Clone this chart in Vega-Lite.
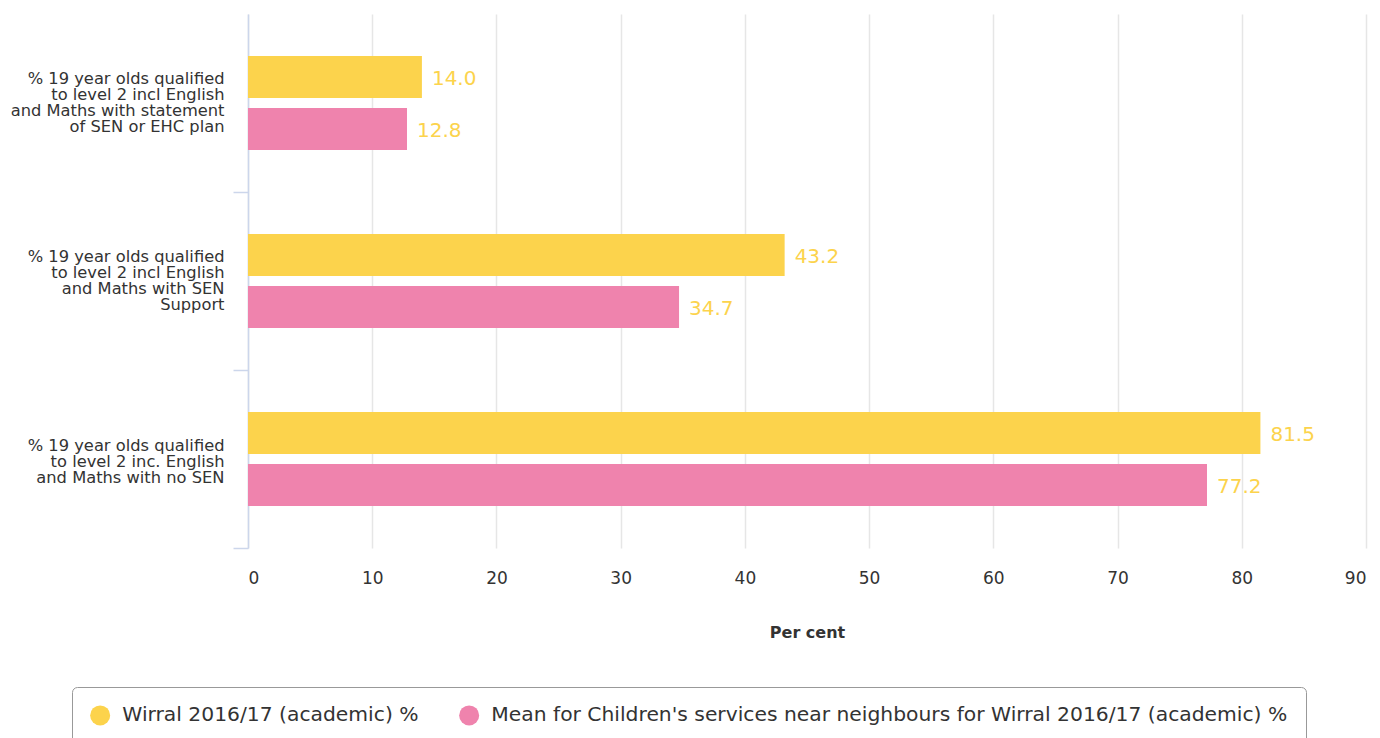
{
  "$schema": "https://vega.github.io/schema/vega-lite/v6.json",
  "width": 1118,
  "height": 534,
  "autosize": "none",
  "padding": {"left": 248, "top": 14, "right": 14, "bottom": 190},
  "config": {"font": "DejaVu Sans", "view": {"stroke": null}},
  "data": {
    "values": [
      {"category": "% 19 year olds qualified to level 2 incl English and Maths with statement of SEN or EHC plan", "series": "Wirral 2016/17 (academic) %", "value": 14.0},
      {"category": "% 19 year olds qualified to level 2 incl English and Maths with statement of SEN or EHC plan", "series": "Mean for Children's services near neighbours for Wirral 2016/17 (academic) %", "value": 12.8},
      {"category": "% 19 year olds qualified to level 2 incl English and Maths with SEN Support", "series": "Wirral 2016/17 (academic) %", "value": 43.2},
      {"category": "% 19 year olds qualified to level 2 incl English and Maths with SEN Support", "series": "Mean for Children's services near neighbours for Wirral 2016/17 (academic) %", "value": 34.7},
      {"category": "% 19 year olds qualified to level 2 inc. English and Maths with no SEN", "series": "Wirral 2016/17 (academic) %", "value": 81.5},
      {"category": "% 19 year olds qualified to level 2 inc. English and Maths with no SEN", "series": "Mean for Children's services near neighbours for Wirral 2016/17 (academic) %", "value": 77.2}
    ]
  },
  "encoding": {
    "y": {
      "field": "category",
      "type": "nominal",
      "sort": null,
      "scale": {"paddingInner": 0, "paddingOuter": 0},
      "axis": {
        "title": null,
        "bandPosition": 1,
        "domainColor": "#ccd6eb",
        "domainWidth": 1.5,
        "tickColor": "#ccd6eb",
        "tickWidth": 1.5,
        "tickSize": 15,
        "labelPadding": 9,
        "labelFontSize": 16.3,
        "labelLineHeight": 16,
        "labelColor": "#333333",
        "labelLimit": 400,
        "labelOffset": {"condition": {"test": "indexof(datum.value, 'no SEN') > 0", "value": -13}, "value": -24},
        "labelExpr": "indexof(datum.value, 'statement') > 0 ? ['% 19 year olds qualified', 'to level 2 incl English', 'and Maths with statement', 'of SEN or EHC plan'] : indexof(datum.value, 'SEN Support') > 0 ? ['% 19 year olds qualified', 'to level 2 incl English', 'and Maths with SEN', 'Support'] : ['% 19 year olds qualified', 'to level 2 inc. English', 'and Maths with no SEN']"
      }
    },
    "yOffset": {
      "field": "series",
      "type": "nominal",
      "sort": null,
      "scale": {"paddingInner": 0.1923, "paddingOuter": 0.8077}
    },
    "x": {
      "field": "value",
      "type": "quantitative",
      "scale": {"domain": [0, 90], "nice": false},
      "axis": {
        "values": [0, 10, 20, 30, 40, 50, 60, 70, 80, 90],
        "domain": false,
        "ticks": false,
        "grid": true,
        "gridColor": "#e6e6e6",
        "gridWidth": 1.5,
        "labelFontSize": 17,
        "labelColor": "#333333",
        "labelPadding": 22,
        "title": "Per cent",
        "titleFontSize": 16,
        "titleFontWeight": "bold",
        "titleColor": "#333333",
        "titlePadding": 38
      }
    }
  },
  "layer": [
    {
      "mark": {"type": "bar"},
      "encoding": {
        "color": {
          "field": "series",
          "type": "nominal",
          "sort": null,
          "scale": {"range": ["#fcd34c", "#ef83ad"]},
          "legend": {
            "title": null,
            "orient": "none",
            "legendX": -176,
            "legendY": 673,
            "direction": "horizontal",
            "symbolType": "circle",
            "symbolSize": 400,
            "symbolStrokeWidth": 0,
            "labelFontSize": 20.3,
            "labelColor": "#333333",
            "labelLimit": 1000,
            "labelOffset": 12,
            "columnPadding": 40,
            "padding": 18,
            "strokeColor": "#999999",
            "fillColor": "#ffffff",
            "cornerRadius": 5
          }
        }
      }
    },
    {
      "mark": {"type": "text", "align": "left", "baseline": "middle", "dx": 10, "dy": 2, "fontSize": 20, "color": "#fcd34c"},
      "encoding": {
        "text": {"field": "value", "type": "quantitative", "format": ".1f"}
      }
    }
  ]
}
